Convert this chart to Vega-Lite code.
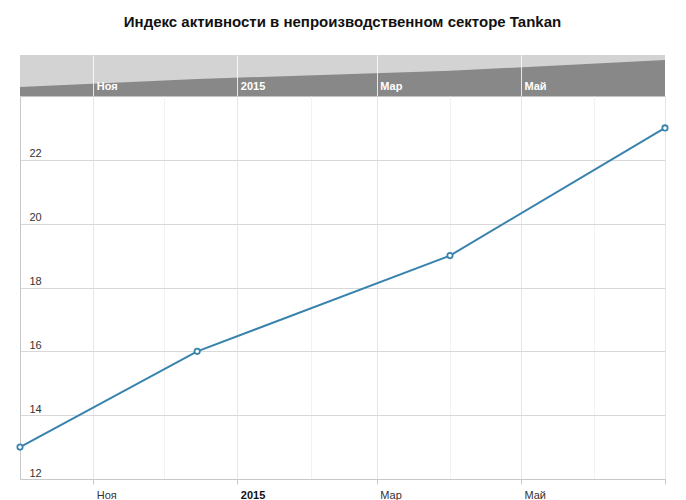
{
  "$schema": "https://vega.github.io/schema/vega-lite/v6.json",
  "padding": {"left": 13, "top": 15, "right": 21, "bottom": 0},
  "title": {
    "text": "Индекс активности в непроизводственном секторе Tankan",
    "anchor": "middle",
    "fontSize": 15,
    "fontWeight": "bold",
    "color": "#111111",
    "baseline": "alphabetic",
    "offset": 13
  },
  "data": {
    "values": [
      {"date": "2014/10/01", "value": 13},
      {"date": "2014/12/15", "value": 16},
      {"date": "2015/04/01", "value": 19},
      {"date": "2015/07/01", "value": 23}
    ]
  },
  "spacing": 0,
  "config": {
    "font": "Liberation Sans",
    "view": {"stroke": null}
  },
  "vconcat": [
    {
      "width": 645,
      "height": 41,
      "view": {"fill": "#d3d3d3", "stroke": null},
      "mark": {"type": "area", "color": "#888888", "opacity": 1, "clip": true},
      "encoding": {
        "x": {
          "field": "date",
          "type": "temporal",
          "scale": {
            "domain": [{"year": 2014, "month": 10, "date": 1}, {"year": 2015, "month": 7, "date": 1}],
            "nice": false
          },
          "axis": {
            "title": null,
            "zindex": 1,
            "values": [
              {"year": 2014, "month": 11, "date": 1},
              {"year": 2015, "month": 1, "date": 1},
              {"year": 2015, "month": 3, "date": 1},
              {"year": 2015, "month": 5, "date": 1}
            ],
            "labelExpr": "month(datum.value) == 0 ? timeFormat(datum.value, '%Y') : ['Янв','Фев','Мар','Апр','Май','Июн','Июл','Авг','Сен','Окт','Ноя','Дек'][month(datum.value)]",
            "grid": true,
            "gridColor": "#ffffff",
            "gridOpacity": 0.8,
            "gridWidth": 1,
            "ticks": false,
            "tickSize": 0,
            "domain": true,
            "domainColor": "#c4c4c4",
            "labelAlign": "left",
            "labelBaseline": "alphabetic",
            "labelOffset": 3,
            "labelPadding": -7,
            "labelColor": "#ffffff",
            "labelFontWeight": "bold",
            "labelFontSize": 11,
            "labelFlush": false,
            "labelOverlap": false
          }
        },
        "y": {
          "field": "value",
          "type": "quantitative",
          "scale": {"domain": [9.7, 24.85], "zero": false, "nice": false},
          "axis": null
        }
      }
    },
    {
      "width": 645,
      "height": 383,
      "layer": [
        {
          "mark": {"type": "line", "color": "#3883ad", "strokeWidth": 2},
          "encoding": {
            "x": {
              "field": "date",
              "type": "temporal",
              "scale": {
                "domain": [{"year": 2014, "month": 10, "date": 1}, {"year": 2015, "month": 7, "date": 1}],
                "nice": false
              },
              "axis": {
                "title": null,
                "values": [
                  {"year": 2014, "month": 11, "date": 1},
                  {"year": 2014, "month": 12, "date": 1},
                  {"year": 2015, "month": 1, "date": 1},
                  {"year": 2015, "month": 2, "date": 1},
                  {"year": 2015, "month": 3, "date": 1},
                  {"year": 2015, "month": 4, "date": 1},
                  {"year": 2015, "month": 5, "date": 1},
                  {"year": 2015, "month": 6, "date": 1},
                  {"year": 2015, "month": 7, "date": 1}
                ],
                "labelExpr": "(month(datum.value) % 2 == 1 || month(datum.value) == 6) ? '' : month(datum.value) == 0 ? timeFormat(datum.value, '%Y') : ['Янв','Фев','Мар','Апр','Май','Июн','Июл','Авг','Сен','Окт','Ноя','Дек'][month(datum.value)]",
                "grid": true,
                "gridColor": {"condition": {"test": "month(datum.value) % 2 == 0", "value": "#e6e6e6"}, "value": "#f2f2f2"},
                "gridOpacity": 1,
                "domainColor": "#c8c8c8",
                "tickColor": "#c8c8c8",
                "tickOpacity": {"condition": {"test": "month(datum.value) % 2 == 0", "value": 1}, "value": 0},
                "tickSize": 5,
                "labelAlign": "left",
                "labelOffset": 3,
                "labelPadding": 5,
                "labelFontSize": 11,
                "labelColor": {"condition": {"test": "month(datum.value) == 0", "value": "#111111"}, "value": "#333333"},
                "labelFontWeight": {"condition": {"test": "month(datum.value) == 0", "value": "bold"}, "value": "normal"},
                "labelFlush": false,
                "labelOverlap": false
              }
            },
            "y": {
              "field": "value",
              "type": "quantitative",
              "scale": {"domain": [12, 24], "zero": false, "nice": false},
              "axis": {
                "title": null,
                "values": [12, 14, 16, 18, 20, 22],
                "grid": true,
                "gridColor": "#d8d8d8",
                "gridOpacity": 1,
                "domain": true,
                "domainColor": "#c8c8c8",
                "ticks": false,
                "tickSize": 0,
                "labelAlign": "left",
                "labelBaseline": "alphabetic",
                "labelPadding": -9,
                "labelOffset": -3,
                "labelFontSize": 11,
                "labelColor": "#333333"
              }
            }
          }
        },
        {
          "mark": {"type": "point", "shape": "circle", "filled": true, "fill": "#ffffff", "stroke": "#3883ad", "strokeWidth": 1.8, "size": 28, "opacity": 1},
          "encoding": {
            "x": {"field": "date", "type": "temporal"},
            "y": {"field": "value", "type": "quantitative"}
          }
        }
      ]
    }
  ]
}
